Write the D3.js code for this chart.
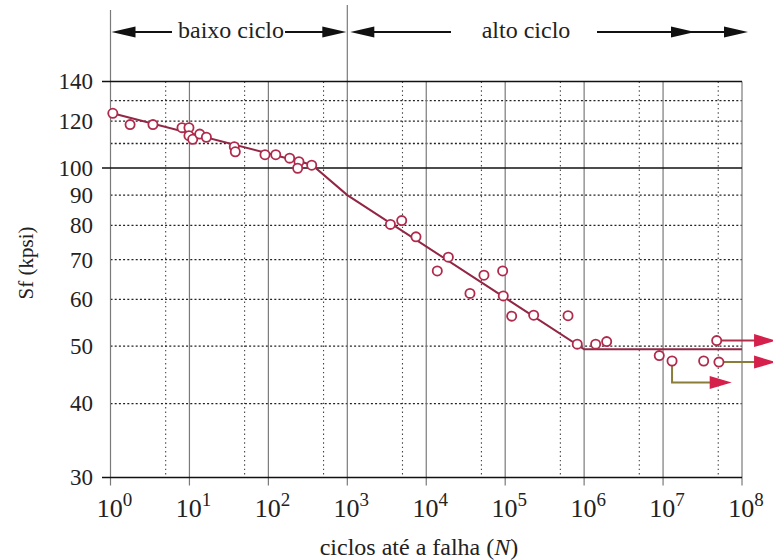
<!DOCTYPE html>
<html><head><meta charset="utf-8">
<script src="https://cdn.jsdelivr.net/npm/d3@7"></script>
<style>
body{margin:0;background:#fff}
svg text{font-family:"Liberation Serif","DejaVu Serif",serif;fill:#222}
</style>
</head><body>
<svg id="chart" width="773" height="560"></svg>
<script>
// Fatigue tests: cycles to failure N and fully reversed strength Sf (kpsi)
const cycles = [1.07, 1.77, 3.45, 8.05, 9.86, 9.86, 11.0, 13.5, 16.4, 37.0, 38.1, 90.6, 124, 186, 244, 235, 354,
  3516, 4887, 7413, 13800, 19050, 35800, 53830, 92900, 94600, 120800, 229600, 625200,
  818500, 1.40e6, 1.93e6, 8.95e6, 1.30e7, 3.27e7, 5.1e7, 4.78e7];
const strength = [123.7, 118.4, 118.4, 117.0, 117.0, 113.4, 111.8, 114.1, 112.7, 108.6, 106.5, 105.3, 105.3, 103.9, 102.5, 99.9, 101.1,
  80.3, 81.5, 76.5, 67.0, 70.7, 61.4, 65.9, 67.0, 60.8, 56.2, 56.4, 56.3,
  50.4, 50.4, 50.9, 48.2, 47.2, 47.2, 47.0, 51.1];

// Fitted S-N curve (piecewise in log-log)
const curveN = [1, 355, 1000, 1e6, 1e8];
const curveS = [124, 101.3, 90, 49.4, 49.4];

// Run-outs (specimens that did not fail): start, elbow level, end
const runoutN = [4.78e7, 5.1e7, 1.30e7];
const runoutS = [51.1, 47.0, 47.2];
const runoutEndN = [2.7e8, 2.7e8, 7.4e7];
const runoutEndS = [51.1, 47.0, 43.4];

// Axis ticks
const xDecades = [1e0, 1e1, 1e2, 1e3, 1e4, 1e5, 1e6, 1e7, 1e8];
const xExponents = ["0", "1", "2", "3", "4", "5", "6", "7", "8"];
const xDotted = [5e0, 5e1, 5e2, 5e3, 5e4, 5e5, 5e6, 5e7];
const yLabels = [30, 40, 50, 60, 70, 80, 90, 100, 120, 140];
const yDotted = [40, 50, 60, 70, 80, 90, 110, 120, 130];
const ySolid = [30, 100, 140];

const serif = '"Liberation Serif","DejaVu Serif",serif';
const svg = d3.select("#chart");
const x = d3.scaleLog().domain([1, 1e8]).range([110.5, 742]);
const y = d3.scaleLog().domain([30, 140]).range([477.5, 81.5]);
const yTop = y(140), yBottom = y(30);

const grid = svg.append("g");
// dotted verticals at 5×10^n
grid.selectAll(".vd").data(xDotted).join("line")
  .attr("x1", d => x(d)).attr("x2", d => x(d))
  .attr("y1", yTop).attr("y2", yBottom)
  .attr("stroke", "#444").attr("stroke-width", 1.1).attr("stroke-dasharray", "1.4,3");
// dotted horizontals
grid.selectAll(".hd").data(yDotted).join("line")
  .attr("x1", x(1)).attr("x2", x(1e8))
  .attr("y1", d => y(d)).attr("y2", d => y(d))
  .attr("stroke", "#222").attr("stroke-width", 1.3).attr("stroke-dasharray", "2,2.2");
// solid decade verticals
grid.selectAll(".vs").data(xDecades).join("line")
  .attr("x1", d => x(d)).attr("x2", d => x(d))
  .attr("y1", d => d === 1 ? 10 : d === 1e3 ? 5 : yTop)
  .attr("y2", yBottom + 8)
  .attr("stroke", "#7a7a7a").attr("stroke-width", 1.2);
// solid horizontals
grid.selectAll(".hs").data(ySolid).join("line")
  .attr("x1", 102).attr("x2", x(1e8))
  .attr("y1", d => y(d)).attr("y2", d => y(d))
  .attr("stroke", "#111").attr("stroke-width", 1.5);

// y axis labels
const yAxis = d3.axisLeft(y).tickValues(yLabels).tickSize(0).tickPadding(17.5)
  .tickFormat(d3.format("d"));
const gy = svg.append("g").attr("transform", `translate(${x(1)},0)`).call(yAxis)
  .attr("font-family", serif).attr("font-size", 23);
gy.select(".domain").remove();
gy.selectAll("text").attr("fill", "#222");

// x axis labels 10^n
const xl = svg.append("g").attr("font-family", serif).selectAll("text").data(xDecades).join("text")
  .attr("x", d => x(d) + 4).attr("y", 517)
  .attr("text-anchor", "middle").attr("font-size", 26);
xl.append("tspan").text("10");
xl.append("tspan").attr("dy", -11).attr("font-size", 19).text((d, i) => xExponents[i]);

// axis titles
const xt = svg.append("text").attr("x", 419).attr("y", 555).attr("text-anchor", "middle")
  .attr("font-family", serif).attr("font-size", 24);
xt.append("tspan").text("ciclos até a falha (");
xt.append("tspan").attr("font-style", "italic").text("N");
xt.append("tspan").text(")");
svg.append("text").attr("transform", "translate(33,263) rotate(-90)")
  .attr("text-anchor", "middle").attr("font-family", serif).attr("font-size", 21).text("Sf (kpsi)");

// S-N curve
const line = d3.line().x((d, i) => x(curveN[i])).y((d, i) => y(curveS[i]));
svg.append("path").datum(curveN).attr("d", line)
  .attr("fill", "none").attr("stroke", "#922644").attr("stroke-width", 2);

// run-out arrows
const arrowHead = (tipX, tipY, len, half) =>
  `M${tipX},${tipY}L${tipX - len},${tipY - half}L${tipX - len},${tipY + half}Z`;
const runoutLine = ["#b0304c", "#8a7d3a", "#8a7d3a"];
const ro = svg.append("g");
runoutN.forEach((n, i) => {
  const x0 = x(n), y0 = y(runoutS[i]), x1 = x(runoutEndN[i]), y1 = y(runoutEndS[i]);
  const pts = y1 !== y0
    ? [[x0, y0 + 4.5], [x0, y1], [x1 - 18, y1]]
    : [[x0 + 4.5, y0], [x1 - 18, y1]];
  ro.append("path").attr("d", d3.line()(pts)).attr("fill", "none")
    .attr("stroke", runoutLine[i]).attr("stroke-width", 2);
  ro.append("path").attr("d", arrowHead(x1, y1, 22, 6.5)).attr("fill", "#d4204a");
});

// test points
svg.append("g").selectAll("circle").data(cycles).join("circle")
  .attr("cx", d => x(d)).attr("cy", (d, i) => y(strength[i])).attr("r", 4.6)
  .attr("fill", "#fff").attr("stroke", "#b02a4c").attr("stroke-width", 1.8);

// regime annotations
const ann = svg.append("g");
const ay = 32;
const seg = (a, b) => ann.append("line").attr("x1", a).attr("x2", b).attr("y1", ay).attr("y2", ay)
  .attr("stroke", "#111").attr("stroke-width", 2);
const headR = tip => ann.append("path").attr("d", arrowHead(tip, ay, 24, 5.5)).attr("fill", "#111");
const headL = tip => ann.append("path").attr("d", `M${tip},${ay}L${tip + 24},${ay - 5.5}L${tip + 24},${ay + 5.5}Z`).attr("fill", "#111");
const xa = x(1) + 1, xb = x(1e3), xc = x(1e8);
headL(xa); seg(xa + 20, 172);
seg(285, xb - 22); headR(xb - 1);
headL(xb + 3); seg(xb + 23, 451);
seg(597, 690); headR(695); seg(690, xc - 18); headR(xc + 6);
ann.append("text").attr("x", 231).attr("y", 38).attr("text-anchor", "middle")
  .attr("font-family", serif).attr("font-size", 24).text("baixo ciclo");
ann.append("text").attr("x", 526).attr("y", 38).attr("text-anchor", "middle")
  .attr("font-family", serif).attr("font-size", 24).text("alto ciclo");
</script>
</body></html>
